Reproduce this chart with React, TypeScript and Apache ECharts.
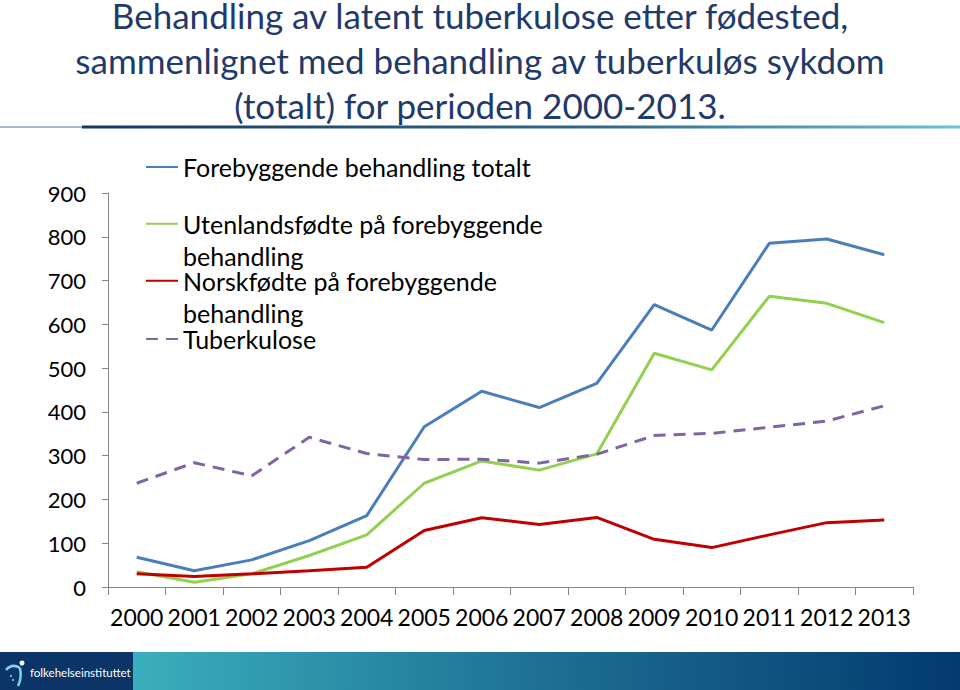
import React, { useEffect, useRef } from "react";
import * as echarts from "echarts";

const years = ["2000", "2001", "2002", "2003", "2004", "2005", "2006", "2007", "2008", "2009", "2010", "2011", "2012", "2013"];
const forebyggendeTotalt = [68, 37, 62, 106, 163, 366, 447, 410, 465, 645, 587, 785, 795, 759];
const utenlandsfodte = [35, 11, 30, 72, 119, 237, 288, 267, 304, 534, 496, 664, 648, 604];
const norskfodte = [30, 24, 30, 37, 45, 129, 158, 143, 159, 109, 90, 119, 147, 153];
const tuberkulose = [237, 284, 254, 342, 305, 291, 292, 283, 303, 346, 351, 365, 379, 414];

const seriesNames = [
  "Forebyggende behandling totalt",
  "Utenlandsfødte på forebyggende behandling",
  "Norskfødte på forebyggende behandling",
  "Tuberkulose",
];
const titleLines = [
  "Behandling av latent tuberkulose etter fødested,",
  "sammenlignet med behandling av tuberkuløs sykdom",
  "(totalt) for perioden 2000-2013.",
];

const FONT = "Lato, 'Open Sans', sans-serif";

export default function App() {
  const ref = useRef<HTMLDivElement>(null);
  useEffect(() => {
    if (!ref.current) return;
    const chart = echarts.init(ref.current, null, { renderer: "svg" });
    const legendText = { fontFamily: FONT, fontSize: 25, color: "#000" };
    const mkLegend = (name: string, top: number, twoLine: boolean) => ({
      left: 145,
      top,
      padding: 0,
      itemWidth: 32,
      itemHeight: 14,
      itemStyle: { opacity: 0 },
      data: [name],
      formatter: (n: string) => (twoLine ? "\n" + n.replace(" behandling", "\nbehandling") : n),
      textStyle: twoLine ? { ...legendText, lineHeight: 32.5 } : { ...legendText, lineHeight: 28 },
    });
    const mkTitle = (text: string, top: number) => ({
      text,
      left: "center",
      top,
      padding: 0,
      textStyle: { fontFamily: FONT, fontSize: 35, fontWeight: "normal", color: "#1F3A6B", lineHeight: 30 },
    });
    chart.setOption({
      animation: false,
      title: [mkTitle(titleLines[0], 0), mkTitle(titleLines[1], 45), mkTitle(titleLines[2], 90)],
      legend: [
        mkLegend(seriesNames[0], 153, false),
        mkLegend(seriesNames[1], 175, true),
        mkLegend(seriesNames[2], 232, true),
        mkLegend(seriesNames[3], 325, false),
      ],
      grid: { left: 108, right: 47, top: 193, bottom: 103, containLabel: false },
      xAxis: {
        type: "category",
        data: years,
        boundaryGap: true,
        axisLine: { lineStyle: { color: "#868686", width: 1 } },
        axisTick: { show: true, length: 8, interval: 0, lineStyle: { color: "#868686" } },
        axisLabel: { fontFamily: FONT, fontSize: 23, color: "#000", margin: 18, interval: 0 },
        splitLine: { show: false },
      },
      yAxis: {
        type: "value",
        min: 0,
        max: 900,
        interval: 100,
        axisLine: { show: true, lineStyle: { color: "#868686", width: 1 } },
        axisTick: { show: true, length: 6, lineStyle: { color: "#868686" } },
        axisLabel: { fontFamily: FONT, fontSize: 22, color: "#000", margin: 22 },
        splitLine: { show: false },
      },
      series: [
        { name: seriesNames[0], type: "line", data: forebyggendeTotalt, symbol: "none", color: "#4A7EBB", lineStyle: { width: 3, color: "#4A7EBB" } },
        { name: seriesNames[1], type: "line", data: utenlandsfodte, symbol: "none", color: "#92D050", lineStyle: { width: 3, color: "#92D050" } },
        { name: seriesNames[2], type: "line", data: norskfodte, symbol: "none", color: "#C00000", lineStyle: { width: 3, color: "#C00000" } },
        { name: seriesNames[3], type: "line", data: tuberkulose, symbol: "none", color: "#8064A2", lineStyle: { width: 3, color: "#8064A2", type: [12, 8] } },
      ],
      graphic: [
        { type: "line", shape: { x1: 0, y1: 127, x2: 82, y2: 127 }, style: { stroke: "#5B6F8E", lineWidth: 1 } },
        {
          type: "rect",
          shape: { x: 82, y: 125.5, width: 878, height: 3 },
          style: {
            fill: new echarts.graphic.LinearGradient(0, 0, 1, 0, [
              { offset: 0, color: "#17375E" },
              { offset: 0.6, color: "#2E6A8E" },
              { offset: 1, color: "#6FC3CF" },
            ]),
          },
        },
        { type: "rect", shape: { x: 0, y: 652, width: 133, height: 38 }, style: { fill: "#0B3467" } },
        {
          type: "rect",
          shape: { x: 133, y: 652, width: 827, height: 38 },
          style: {
            fill: new echarts.graphic.LinearGradient(0, 0, 1, 0, [
              { offset: 0, color: "#3AAFBD" },
              { offset: 0.5, color: "#1D6F93" },
              { offset: 1, color: "#033A6E" },
            ]),
          },
        },
        { type: "circle", shape: { cx: 22, cy: 663, r: 2.5 }, style: { fill: "#FFFFFF" } },
        { type: "bezierCurve", shape: { x1: 6, y1: 670, cpx1: 12, cpy1: 663, x2: 20, y2: 668 }, style: { stroke: "#7FD3E6", lineWidth: 2.5, fill: "none" } },
        { type: "bezierCurve", shape: { x1: 20, y1: 668, cpx1: 22, cpy1: 678, x2: 18, y2: 686 }, style: { stroke: "#7FD3E6", lineWidth: 2.5, fill: "none" } },
        { type: "circle", shape: { cx: 11, cy: 676, r: 1 }, style: { fill: "#7FD3E6" } },
        { type: "circle", shape: { cx: 13, cy: 680, r: 1 }, style: { fill: "#7FD3E6" } },
        {
          type: "text",
          x: 30,
          y: 672,
          style: { text: "folkehelseinstituttet", fill: "#FFFFFF", fontFamily: FONT, fontSize: 11.5, verticalAlign: "middle" },
        },
      ],
    });
    return () => chart.dispose();
  }, []);
  return <div ref={ref} style={{ position: "fixed", left: 0, top: 0, width: 960, height: 690, background: "#fff" }} />;
}
